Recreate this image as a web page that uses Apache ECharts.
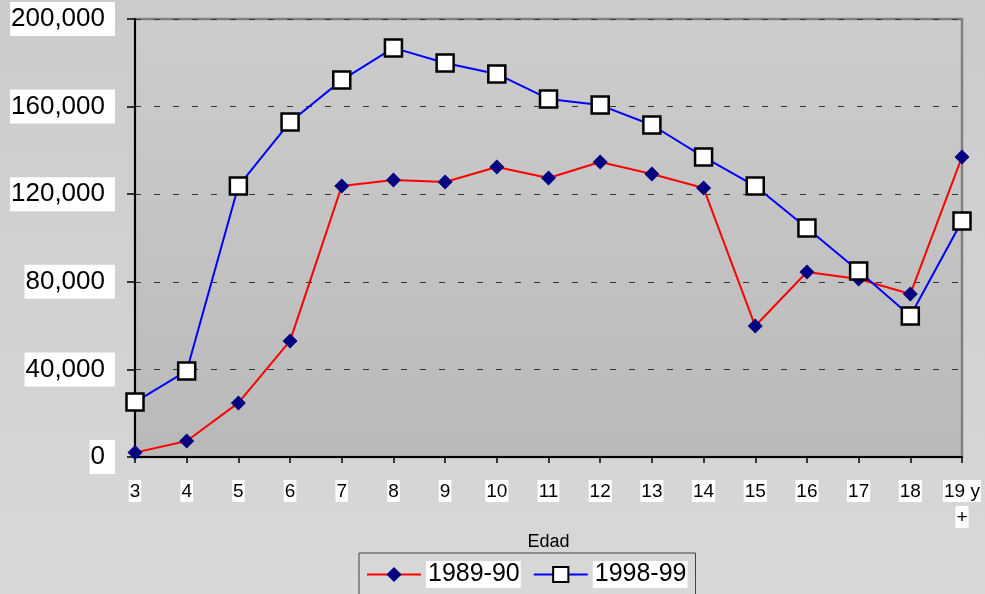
<!DOCTYPE html>
<html>
<head>
<meta charset="utf-8">
<script src="https://cdn.jsdelivr.net/npm/echarts@6/dist/echarts.min.js"></script>
<style>
  html, body { margin: 0; padding: 0; }
  #chart { width: 985px; height: 594px; }
</style>
</head>
<body>
<div id="chart"></div>
<script>
const edades = ['3', '4', '5', '6', '7', '8', '9', '10', '11', '12', '13', '14', '15', '16', '17', '18', '19 y\n+'];
const serie8990 = [2000, 7300, 24700, 53000, 123700, 126500, 125600, 132400, 127400, 134700, 129200, 122800, 59800, 84500, 81300, 74400, 137000];
const serie9899 = [25100, 39300, 123700, 153000, 172100, 186800, 179900, 174900, 163500, 160700, 151600, 137000, 123700, 104600, 84900, 64400, 107800];
const yTicks = [0, 40000, 80000, 120000, 160000, 200000];

const font = 'Liberation Sans, Arial, sans-serif';
const chart = echarts.init(document.getElementById('chart'));

chart.setOption({
  backgroundColor: {
    type: 'linear', x: 0, y: 0, x2: 0, y2: 1,
    colorStops: [{ offset: 0, color: '#cbcbcb' }, { offset: 1, color: '#d8d8d8' }]
  },
  animation: false,
  grid: {
    left: 135, right: 23, top: 19, bottom: 137,
    show: true,
    borderColor: '#808080',
    borderWidth: 2.5,
    backgroundColor: {
      type: 'linear', x: 0, y: 0, x2: 0, y2: 1,
      colorStops: [{ offset: 0, color: '#cdcdcd' }, { offset: 1, color: '#b9b9b9' }]
    }
  },
  legend: {
    left: 359, top: 553,
    padding: [8, 8, 30, 7],
    borderColor: '#404040',
    borderWidth: 1,
    itemWidth: 54,
    itemHeight: 19,
    itemGap: 12,
    textStyle: { fontFamily: font, fontSize: 25, color: '#000', backgroundColor: '#fff', padding: [2, 1, 0, 2] },
    data: ['1989-90', '1998-99']
  },
  xAxis: {
    type: 'category',
    data: edades,
    boundaryGap: false,
    name: 'Edad',
    nameLocation: 'middle',
    nameGap: 76,
    nameTextStyle: { fontFamily: font, fontSize: 18, color: '#000' },
    axisLine: { lineStyle: { color: '#000', width: 2 } },
    axisTick: { alignWithLabel: true, length: 6, lineStyle: { color: '#000', width: 1.5 } },
    axisLabel: {
      margin: 21,
      interval: 0,
      formatter: v => v.split('\n').map(s => '{a|' + s + '}').join('\n'),
      rich: {
        a: { fontFamily: font, fontSize: 19, color: '#000', backgroundColor: '#fff', padding: [2, 1, 1, 1], lineHeight: 26 }
      }
    }
  },
  yAxis: {
    type: 'value',
    min: 0, max: 200000, interval: 40000,
    axisLine: { show: true, lineStyle: { color: '#000', width: 2 } },
    axisTick: { show: true, length: 8, lineStyle: { color: '#000', width: 1.5 } },
    splitLine: { lineStyle: { color: '#333', type: [6, 13], width: 1 } },
    axisLabel: {
      margin: 20,
      fontFamily: font, fontSize: 26, color: '#000',
      backgroundColor: '#fff',
      padding: [7, 10, 1, 1],
      formatter: v => yTicks.includes(v) ? v.toLocaleString('en-US') : ''
    }
  },
  series: [
    {
      name: '1989-90',
      type: 'line',
      data: serie8990,
      symbol: 'diamond',
      symbolSize: 15,
      lineStyle: { color: '#ff0000', width: 2 },
      itemStyle: { color: '#000080' }
    },
    {
      name: '1998-99',
      type: 'line',
      data: serie9899,
      symbol: 'rect',
      symbolSize: 17,
      lineStyle: { color: '#0000ff', width: 2 },
      itemStyle: { color: '#fff', borderColor: '#000', borderWidth: 2.5 }
    }
  ]
});
</script>
</body>
</html>
